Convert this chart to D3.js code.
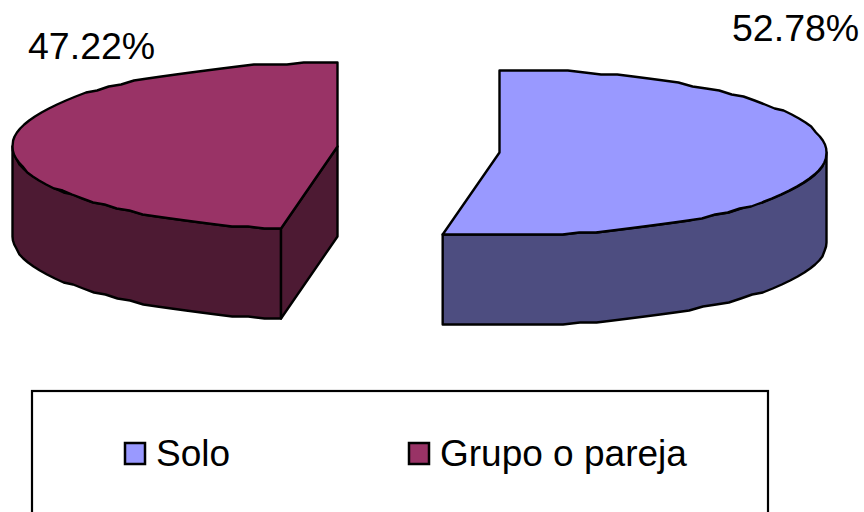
<!DOCTYPE html>
<html>
<head>
<meta charset="utf-8">
<script src="https://cdn.jsdelivr.net/npm/d3@7/dist/d3.min.js"></script>
<style>
html,body{margin:0;padding:0;background:#fff;overflow:hidden}
svg{display:block}
text{font-family:"Liberation Sans",Arial,sans-serif;fill:#000}
</style>
</head>
<body>
<svg id="chart" width="864" height="512"></svg>
<script>
const categories = ["Solo", "Grupo o pareja"];
const values = [52.78, 47.22];
const valueLabels = ["52.78%", "47.22%"];
const topColors = ["#9999FF", "#993366"];
const sideColors = ["#4D4D80", "#4D1A33"];

const svg = d3.select("#chart");
const pie = d3.pie().sort(null).value(d => d)(values);

const layouts = [
  {cx: 499.5, cy: 152.5, rx: 327, ry: 83, depth: 90},
  {cx: 337.5, cy: 146.5, rx: 325, ry: 84, depth: 90}
];
const line = d3.line();
const STEP = Math.PI / 60;
const GRID = 2;

function arcPoints(g, a0, a1, dy) {
  const n = Math.max(1, Math.round(Math.abs(a1 - a0) / STEP));
  const t = d3.scaleLinear().domain([0, n]).range([a0, a1]);
  return d3.range(n + 1).map(i => {
    const a = t(i);
    const y = g.cy - g.ry * Math.cos(a);
    return [g.cx + g.rx * Math.sin(a), g.cy + Math.round((y - g.cy) / GRID) * GRID + dy];
  });
}

function drawPoly(pts, fill) {
  svg.append("path")
    .attr("d", line(pts) + "Z")
    .attr("fill", fill)
    .attr("stroke", "#000")
    .attr("stroke-width", 2.4)
    .attr("stroke-linejoin", "round");
}

pie.forEach((s, i) => {
  const g = layouts[i];
  const apex = [g.cx, g.cy];
  const apexLow = [g.cx, g.cy + g.depth];
  const w0 = Math.max(s.startAngle, Math.PI / 2);
  const w1 = Math.min(s.endAngle, 3 * Math.PI / 2);
  const upper = arcPoints(g, w0, w1, 0);
  const lower = arcPoints(g, w1, w0, g.depth);
  drawPoly(upper.concat(lower), sideColors[i]);
  if (i === 1) {
    const c = arcPoints(g, s.startAngle, s.startAngle, 0)[0];
    drawPoly([apex, c, [c[0], c[1] + g.depth], apexLow], sideColors[i]);
  }
  drawPoly([apex].concat(arcPoints(g, s.startAngle, s.endAngle, 0)), topColors[i]);
});

const labelPos = [[732, 41], [28, 59]];
svg.selectAll("text.val").data(valueLabels).join("text")
  .attr("class", "val")
  .attr("x", (d, i) => labelPos[i][0])
  .attr("y", (d, i) => labelPos[i][1])
  .attr("font-size", 37.5)
  .text(d => d);

svg.append("rect")
  .attr("x", 32).attr("y", 391).attr("width", 736).attr("height", 140)
  .attr("fill", "#fff").attr("stroke", "#000").attr("stroke-width", 2.2);

const legendX = d3.scaleOrdinal().domain(categories).range([125, 409]);
const legend = svg.selectAll("g.leg").data(categories).join("g")
  .attr("class", "leg")
  .attr("transform", d => `translate(${legendX(d)},443)`);
legend.append("rect")
  .attr("width", 20).attr("height", 21)
  .attr("fill", (d, i) => topColors[i])
  .attr("stroke", "#000").attr("stroke-width", 2.5);
legend.append("text")
  .attr("x", 31).attr("y", 23)
  .attr("font-size", 37)
  .text(d => d);
</script>
</body>
</html>
